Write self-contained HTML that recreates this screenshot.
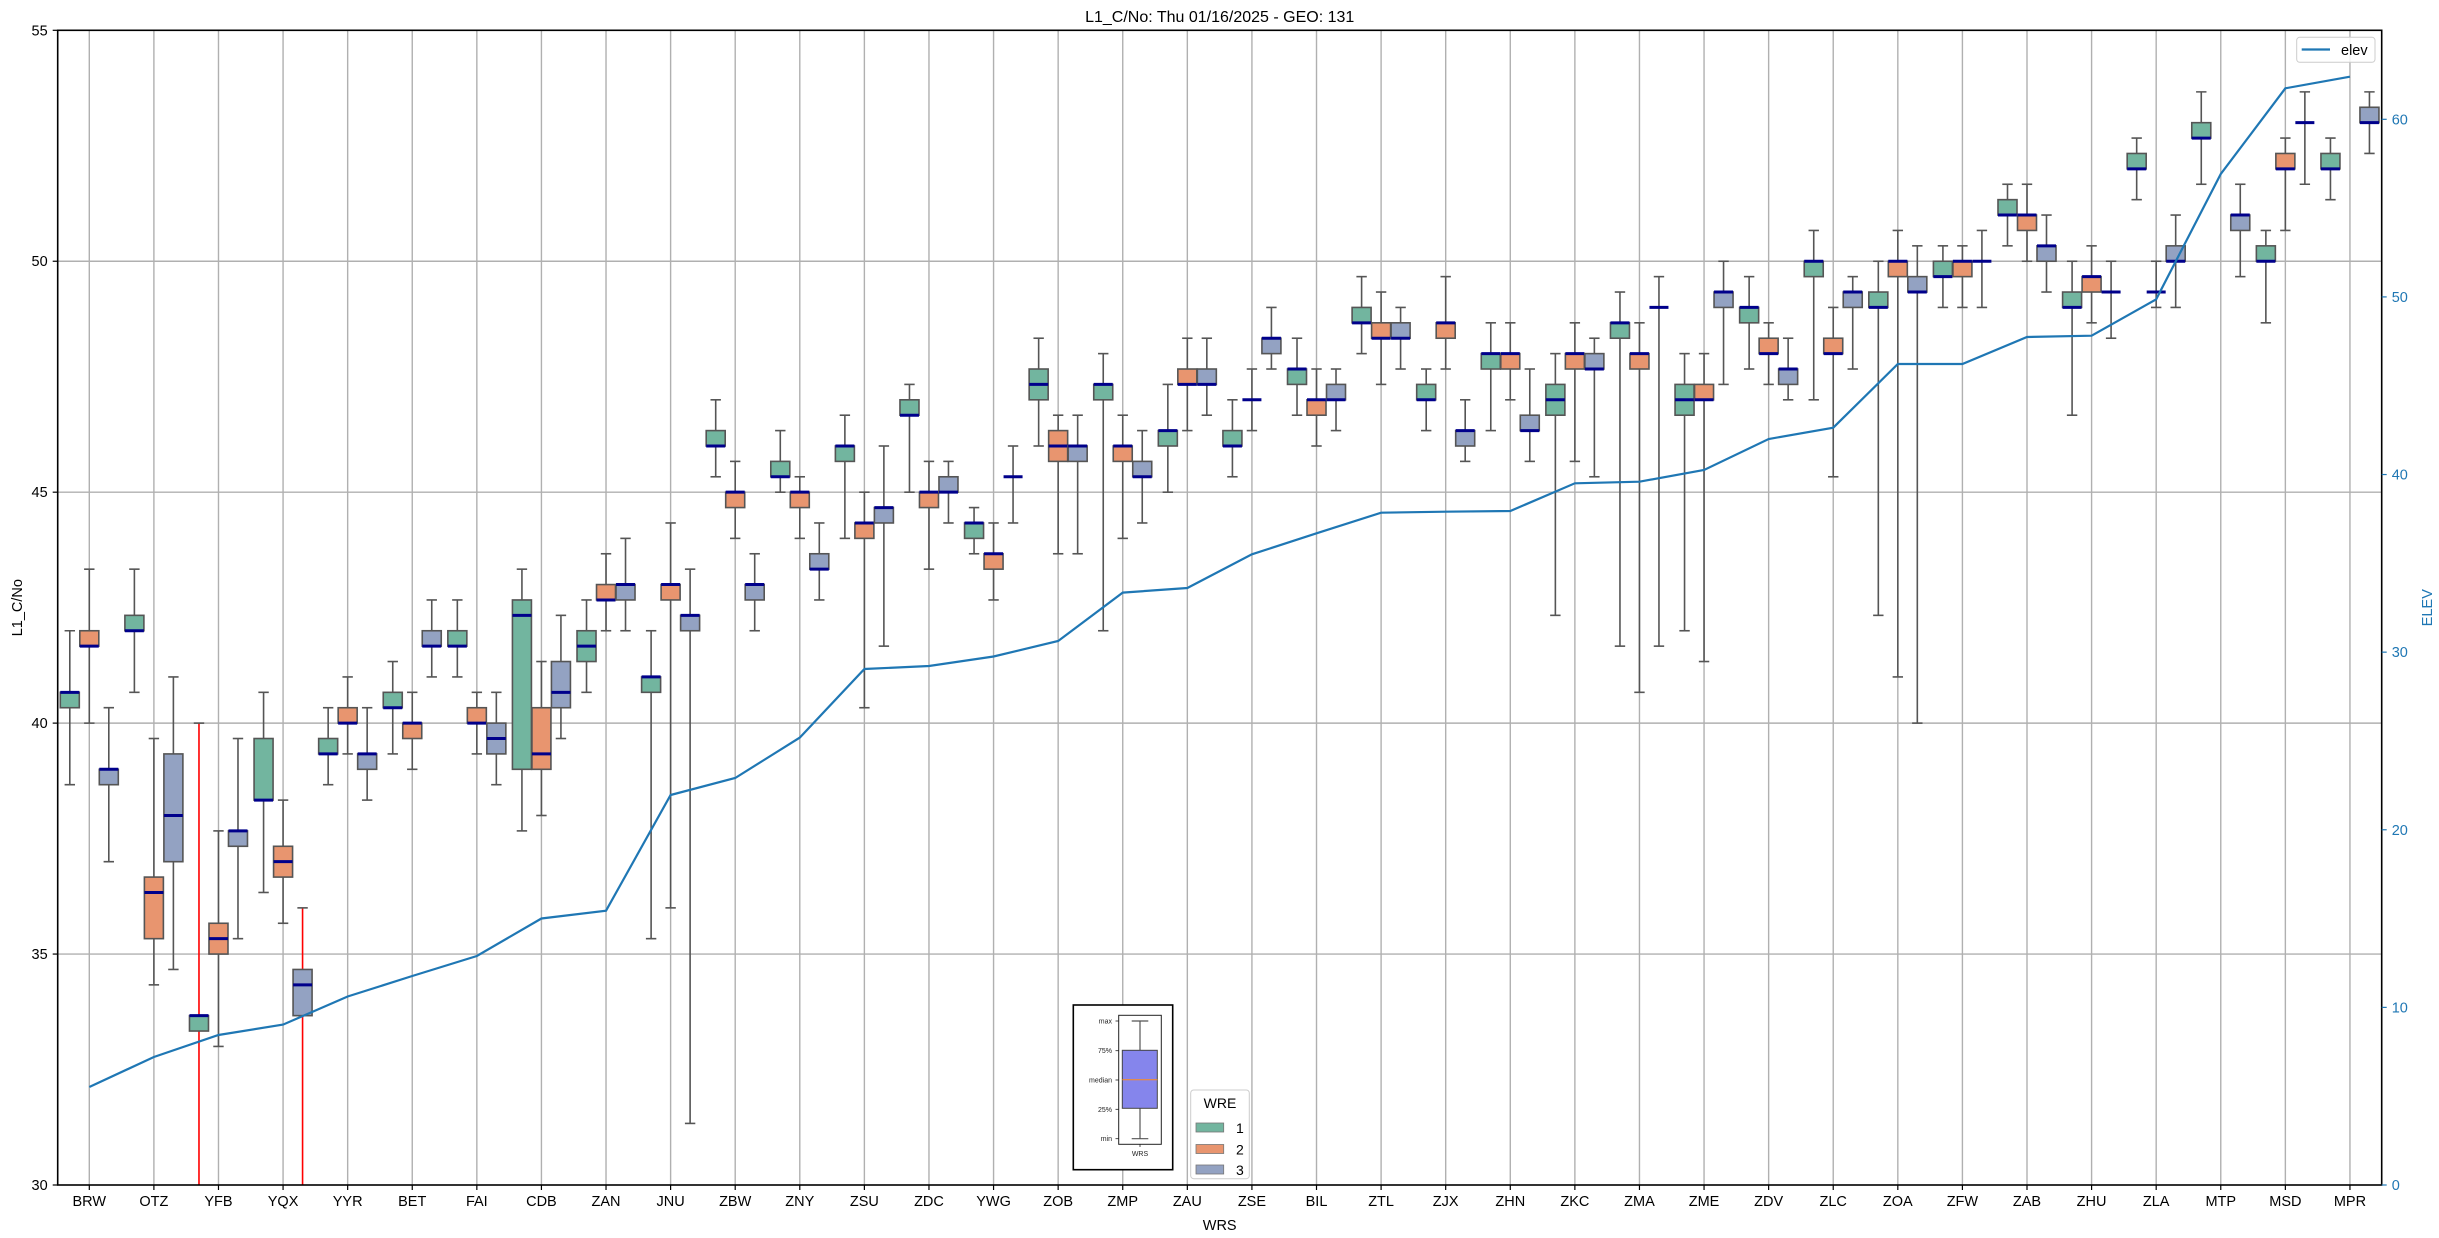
<!DOCTYPE html>
<html><head><meta charset="utf-8">
<style>
html,body{margin:0;padding:0;background:#fff;}
svg{display:block;font-family:"Liberation Sans","DejaVu Sans",sans-serif;}
</style></head>
<body>
<svg id="c" width="2439" height="1238" viewBox="0 0 2439 1238" xmlns="http://www.w3.org/2000/svg"></svg>
<script>
const L=57.7,R=2381.7,T=30.3,B=1185;
const Y=v=>B-(v-30)*(B-T)/25;
const YE=e=>B-e*(B-119.3)/60;
const X=i=>89.3+64.59*i;
const names="BRW OTZ YFB YQX YYR BET FAI CDB ZAN JNU ZBW ZNY ZSU ZDC YWG ZOB ZMP ZAU ZSE BIL ZTL ZJX ZHN ZKC ZMA ZME ZDV ZLC ZOA ZFW ZAB ZHU ZLA MTP MSD MPR".split(" ");
const D=[
[[38.6,40.3,40.6,40.6,42.0],[40.0,41.6,41.6,42.0,43.3],[37.0,38.6,39.0,39.0,40.3]],
[[40.6,42.0,42.0,42.3,43.3],[34.3,35.3,36.3,36.6,39.6],[34.6,37.0,38.0,39.3,41.0]],
[[29,33.3,33.6,33.6,40.0,1],[33.0,35.0,35.3,35.6,37.6],[35.3,37.3,37.6,37.6,39.6]],
[[36.3,38.3,38.3,39.6,40.6],[35.6,36.6,37.0,37.3,38.3],[29,33.6,34.3,34.6,36.0,1]],
[[38.6,39.3,39.3,39.6,40.3],[39.3,40.0,40.0,40.3,41.0],[38.3,39.0,39.3,39.3,40.3]],
[[39.3,40.3,40.3,40.6,41.3],[39.0,39.6,40.0,40.0,40.6],[41.0,41.6,41.6,42.0,42.6]],
[[41.0,41.6,41.6,42.0,42.6],[39.3,40.0,40.0,40.3,40.6],[38.6,39.3,39.6,40.0,40.6]],
[[37.6,39.0,42.3,42.6,43.3],[38.0,39.0,39.3,40.3,41.3],[39.6,40.3,40.6,41.3,42.3]],
[[40.6,41.3,41.6,42.0,42.6],[42.0,42.6,42.6,43.0,43.6],[42.0,42.6,43.0,43.0,44.0]],
[[35.3,40.6,41.0,41.0,42.0],[36.0,42.6,43.0,43.0,44.3],[31.3,42.0,42.3,42.3,43.3]],
[[45.3,46.0,46.0,46.3,47.0],[44.0,44.6,45.0,45.0,45.6],[42.0,42.6,43.0,43.0,43.6]],
[[45.0,45.3,45.3,45.6,46.3],[44.0,44.6,45.0,45.0,45.3],[42.6,43.3,43.3,43.6,44.3]],
[[44.0,45.6,46.0,46.0,46.6],[40.3,44.0,44.3,44.3,45.0],[41.6,44.3,44.6,44.6,46.0]],
[[45.0,46.6,46.6,47.0,47.3],[43.3,44.6,45.0,45.0,45.6],[44.3,45.0,45.0,45.3,45.6]],
[[43.6,44.0,44.3,44.3,44.6],[42.6,43.3,43.6,43.6,44.3],[44.3,45.3,45.3,45.3,46.0]],
[[46.0,47.0,47.3,47.6,48.3],[43.6,45.6,46.0,46.3,46.6],[43.6,45.6,46.0,46.0,46.6]],
[[42.0,47.0,47.3,47.3,48.0],[44.0,45.6,46.0,46.0,46.6],[44.3,45.3,45.3,45.6,46.3]],
[[45.0,46.0,46.3,46.3,47.3],[46.3,47.3,47.3,47.6,48.3],[46.6,47.3,47.3,47.6,48.3]],
[[45.3,46.0,46.0,46.3,47.0],[46.3,47.0,47.0,47.0,47.6],[47.6,48.0,48.3,48.3,49.0]],
[[46.6,47.3,47.6,47.6,48.3],[46.0,46.6,47.0,47.0,47.6],[46.3,47.0,47.0,47.3,47.6]],
[[48.0,48.6,48.6,49.0,49.6],[47.3,48.3,48.3,48.6,49.3],[47.6,48.3,48.3,48.6,49.0]],
[[46.3,47.0,47.0,47.3,47.6],[47.6,48.3,48.6,48.6,49.6],[45.6,46.0,46.3,46.3,47.0]],
[[46.3,47.6,48.0,48.0,48.6],[47.0,47.6,48.0,48.0,48.6],[45.6,46.3,46.3,46.6,47.6]],
[[42.3,46.6,47.0,47.3,48.0],[45.6,47.6,48.0,48.0,48.6],[45.3,47.6,47.6,48.0,48.3]],
[[41.6,48.3,48.6,48.6,49.3],[40.6,47.6,48.0,48.0,48.6],[41.6,49.0,49.0,49.0,49.6]],
[[42.0,46.6,47.0,47.3,48.0],[41.3,47.0,47.0,47.3,48.0],[47.3,49.0,49.3,49.3,50.0]],
[[47.6,48.6,49.0,49.0,49.6],[47.3,48.0,48.0,48.3,48.6],[47.0,47.3,47.6,47.6,48.3]],
[[47.0,49.6,50.0,50.0,50.6],[45.3,48.0,48.0,48.3,49.0],[47.6,49.0,49.3,49.3,49.6]],
[[42.3,49.0,49.0,49.3,50.0],[41.0,49.6,50.0,50.0,50.6],[40.0,49.3,49.3,49.6,50.3]],
[[49.0,49.6,49.6,50.0,50.3],[49.0,49.6,50.0,50.0,50.3],[49.0,50.0,50.0,50.0,50.6]],
[[50.3,51.0,51.0,51.3,51.6],[50.0,50.6,51.0,51.0,51.6],[49.3,50.0,50.3,50.3,51.0]],
[[46.6,49.0,49.0,49.3,50.0],[48.6,49.3,49.6,49.6,50.3],[48.3,49.3,49.3,49.3,50.0]],
[[51.3,52.0,52.0,52.3,52.6],[49.0,49.3,49.3,49.3,50.0],[49.0,50.0,50.0,50.3,51.0]],
[[51.6,52.6,52.6,53.0,53.6],null,[49.6,50.6,51.0,51.0,51.6]],
[[48.6,50.0,50.0,50.3,50.6],[50.6,52.0,52.0,52.3,52.6],[51.6,53.0,53.0,53.0,53.6]],
[[51.3,52.0,52.0,52.3,52.6],null,[52.3,53.0,53.0,53.3,53.6]]
];
const elev=[1087,1057,1035,1024.6,996.5,976,956,918.5,910.7,795,778,737.6,669,666,656.5,641,592.6,588,554.3,533.3,512.7,511.7,511,483.3,481.7,470,439,427.7,364,364,337,335.7,299.3,174,88.3,76.7];
const cols=["#72b59f","#e8956f","#93a2c2"];
const r3=v=>Math.round(v*3)/3;
let s="";
// grid
for(let i=0;i<36;i++){s+=`<line x1="${X(i)}" y1="${T}" x2="${X(i)}" y2="${B}" stroke="#b0b0b0" stroke-width="1.4"/>`;}
for(let v=35;v<=50;v+=5){s+=`<line x1="${L}" y1="${Y(v)}" x2="${R}" y2="${Y(v)}" stroke="#b0b0b0" stroke-width="1.4"/>`;}
s+=`<clipPath id="cp"><rect x="${L}" y="${T}" width="${R-L}" height="${B-T}"/></clipPath><g clip-path="url(#cp)">`;
// boxes
for(let i=0;i<36;i++){for(let h=0;h<3;h++){const d=D[i][h];if(!d)continue;
 const cx=X(i)+(h-1)*19.5,w=19,hw=w/2,cw=5.2;
 const lo=d[0]<30?29:r3(d[0]),q1=r3(d[1]),md=r3(d[2]),q3=r3(d[3]),hi=r3(d[4]);const red=d[5];
 const wc=red?"#ff0000":"#555";
 s+=`<line x1="${cx}" y1="${Y(q3)}" x2="${cx}" y2="${Y(hi)}" stroke="${wc}" stroke-width="1.6"/>`;
 s+=`<line x1="${cx}" y1="${Y(q1)}" x2="${cx}" y2="${Y(lo)}" stroke="${wc}" stroke-width="1.6"/>`;
 s+=`<line x1="${cx-cw}" y1="${Y(hi)}" x2="${cx+cw}" y2="${Y(hi)}" stroke="#555" stroke-width="1.6"/>`;
 if(d[0]>=30)s+=`<line x1="${cx-cw}" y1="${Y(lo)}" x2="${cx+cw}" y2="${Y(lo)}" stroke="#555" stroke-width="1.6"/>`;
 if(q3>q1)s+=`<rect x="${cx-hw}" y="${Y(q3)}" width="${w}" height="${Y(q1)-Y(q3)}" fill="${cols[h]}" stroke="#555" stroke-width="1.6"/>`;
 s+=`<line x1="${cx-hw}" y1="${Y(md)}" x2="${cx+hw}" y2="${Y(md)}" stroke="#00008b" stroke-width="3"/>`;
}}
// elev line
s+=`<polyline fill="none" stroke="#1f77b4" stroke-width="2.2" points="${elev.map((e,i)=>X(i)+","+e).join(" ")}"/>`;
s+=`</g>`;
// axes frame
s+=`<rect x="${L}" y="${T}" width="${R-L}" height="${B-T}" fill="none" stroke="#000" stroke-width="1.6"/>`;
// left ticks
for(let v=30;v<=55;v+=5){const y=Y(v);s+=`<line x1="${L-5}" y1="${y}" x2="${L}" y2="${y}" stroke="#000" stroke-width="1.2"/><text x="${L-10}" y="${y+5}" font-size="14.5" text-anchor="end">${v}</text>`;}
// right ticks
for(let e=0;e<=60;e+=10){const y=YE(e);s+=`<line x1="${R}" y1="${y}" x2="${R+5}" y2="${y}" stroke="#1f77b4" stroke-width="1.2"/><text x="${R+10}" y="${y+5}" font-size="14.5" fill="#1f77b4">${e}</text>`;}
// x ticks
for(let i=0;i<36;i++){s+=`<line x1="${X(i)}" y1="${B}" x2="${X(i)}" y2="${B+5}" stroke="#000" stroke-width="1.2"/><text x="${X(i)}" y="${B+21}" font-size="14.5" text-anchor="middle">${names[i]}</text>`;}
s+=`<text x="${(L+R)/2}" y="1230" font-size="14.5" text-anchor="middle">WRS</text>`;
s+=`<text x="${(L+R)/2}" y="22" font-size="16" text-anchor="middle">L1_C/No: Thu 01/16/2025 - GEO: 131</text>`;
s+=`<text transform="translate(22,${(T+B)/2}) rotate(-90)" font-size="14.5" text-anchor="middle">L1_C/No</text>`;
s+=`<text transform="translate(2432,${(T+B)/2}) rotate(-90)" font-size="14.5" text-anchor="middle" fill="#1f77b4">ELEV</text>`;
// elev legend
s+=`<rect x="2296.7" y="37.3" width="78.3" height="25" rx="3" fill="#fff" fill-opacity="0.85" stroke="#ccc"/><line x1="2301.7" y1="49.5" x2="2330" y2="49.5" stroke="#1f77b4" stroke-width="2.2"/><text x="2341" y="55" font-size="14.5">elev</text>`;
// inset
s+=`<rect x="1073.3" y="1005" width="99.4" height="164.7" fill="#fff" stroke="#000" stroke-width="1.6"/>`;
s+=`<rect x="1118.7" y="1015.3" width="42.6" height="129" fill="none" stroke="#222" stroke-width="1"/>`;
s+=`<line x1="1140" y1="1021" x2="1140" y2="1138.7" stroke="#555" stroke-width="1.2"/><line x1="1131.7" y1="1021" x2="1148.3" y2="1021" stroke="#555" stroke-width="1.2"/><line x1="1131.7" y1="1138.7" x2="1148.3" y2="1138.7" stroke="#555" stroke-width="1.2"/>`;
s+=`<rect x="1122.3" y="1050.3" width="35" height="58" fill="#8585ec" stroke="#444" stroke-width="1"/><line x1="1122.3" y1="1079.7" x2="1157.3" y2="1079.7" stroke="#ff8c1a" stroke-width="1"/>`;
[["max",1021],["75%",1050.7],["median",1080],["25%",1109.3],["min",1138.7]].forEach(([t,y])=>{s+=`<line x1="1115.5" y1="${y}" x2="1118.7" y2="${y}" stroke="#222" stroke-width="0.8"/><text x="1112" y="${y+2.5}" font-size="7" text-anchor="end" fill="#222">${t}</text>`;});
s+=`<line x1="1140" y1="1144.3" x2="1140" y2="1147" stroke="#222" stroke-width="0.8"/><text x="1140" y="1156" font-size="7" text-anchor="middle" fill="#222">WRS</text>`;
// WRE legend
s+=`<rect x="1190.7" y="1090" width="58.6" height="88.7" rx="3" fill="#fff" fill-opacity="0.85" stroke="#ccc"/>`;
s+=`<text x="1220" y="1108" font-size="14" text-anchor="middle">WRE</text>`;
[1123,1144.5,1165].forEach((y,k)=>{s+=`<rect x="1196" y="${y}" width="27.7" height="9" fill="${cols[k]}" stroke="#777" stroke-width="0.8"/><text x="1236" y="${y+10}" font-size="14">${k+1}</text>`;});
document.getElementById("c").innerHTML=s;
</script>
</body></html>
